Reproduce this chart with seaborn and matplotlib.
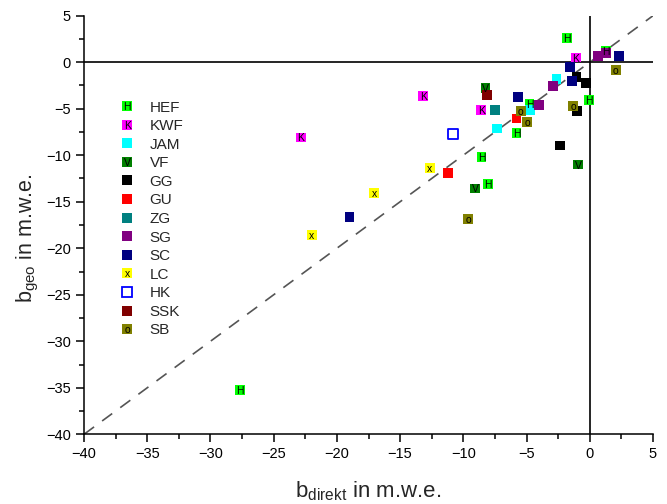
import matplotlib
matplotlib.use("Agg")
import matplotlib.pyplot as plt
from matplotlib.legend_handler import HandlerBase
from matplotlib.patches import Rectangle
from matplotlib.text import Text
from matplotlib.ticker import MultipleLocator
import numpy as np
import pandas as pd
import seaborn as sns

# Glacier groups, their colours and the letter printed on each marker
groups = ["HEF", "KWF", "JAM", "VF", "GG", "GU", "ZG", "SG", "SC", "LC", "HK", "SSK", "SB"]
colors = ["#00ff00", "#ff00ff", "#00ffff", "#008000", "#000000", "#ff0000", "#008080",
          "#800080", "#000080", "#ffff00", "#ffffff", "#800000", "#808000"]
letters = ["H", "K", "", "V", "", "", "", "", "", "x", "", "", "o"]

# Mass balance pairs (direct glaciological vs geodetic), m w.e.
hef_direkt = [-1.8, 1.3, -0.05, -4.77, -5.8, -8.56, -8.03, -27.65]
hef_geo = [2.6, 1.2, -4.07, -4.5, -7.65, -10.2, -13.1, -35.2]
kwf_direkt = [-1.1, -8.58, -13.17, -22.85]
kwf_geo = [0.5, -5.15, -3.64, -8.09]
jam_direkt = [-2.63, -4.74, -7.32]
jam_geo = [-1.84, -5.15, -7.12]
vf_direkt = [-8.24, -9.08, -0.9]
vf_geo = [-2.74, -13.57, -11.0]
gg_direkt = [-1.05, -0.32, -1.0, -2.37]
gg_geo = [-1.63, -2.2, -5.21, -8.95]
gu_direkt = [-5.79, -11.19]
gu_geo = [-6.05, -11.9]
zg_direkt = [-7.5]
zg_geo = [-5.15]
sg_direkt = [0.66, 1.26, -2.9, -4.0]
sg_geo = [0.7, 0.96, -2.56, -4.64]
sc_direkt = [2.3, -1.58, -1.4, -5.66, -19.0]
sc_geo = [0.7, -0.48, -2.0, -3.7, -16.63]
lc_direkt = [-12.64, -17.06, -21.98]
lc_geo = [-11.36, -14.05, -18.57]
hk_direkt = [-10.8]
hk_geo = [-7.76]
ssk_direkt = [-8.16]
ssk_geo = [-3.53]
sb_direkt = [2.05, -1.32, -5.47, -4.95, -9.6]
sb_geo = [-0.84, -4.7, -5.22, -6.4, -16.88]

direkt = [hef_direkt, kwf_direkt, jam_direkt, vf_direkt, gg_direkt, gu_direkt, zg_direkt,
          sg_direkt, sc_direkt, lc_direkt, hk_direkt, ssk_direkt, sb_direkt]
geo = [hef_geo, kwf_geo, jam_geo, vf_geo, gg_geo, gu_geo, zg_geo,
       sg_geo, sc_geo, lc_geo, hk_geo, ssk_geo, sb_geo]

rows = []
for g, xs, ys in zip(groups, direkt, geo):
    for xv, yv in zip(xs, ys):
        rows.append({"group": g, "b_direkt": xv, "b_geo": yv})
df = pd.DataFrame(rows)

sns.set_style("ticks")
plt.rcParams["font.family"] = ["Liberation Sans", "DejaVu Sans"]
plt.rcParams["mathtext.fontset"] = "custom"
plt.rcParams["mathtext.rm"] = "Liberation Sans"
plt.rcParams["mathtext.it"] = "Liberation Sans:italic"

fig = plt.figure(figsize=(6.67, 5.04), dpi=100)
ax = fig.add_axes([84 / 667, 1 - 434.3 / 504, (653 - 84) / 667, (434.3 - 15.7) / 504])

# 1:1 reference line and zero axes
lim = np.array([-40, 5])
ax.plot(lim, lim, color="#555555", lw=1.2, ls=(0, (7.5, 6)), zorder=1)
ax.axhline(0, color="black", lw=1.2, zorder=1)
ax.axvline(0, color="black", lw=1.2, zorder=1)

palette = dict(zip(groups, colors))
filled = df[df["group"] != "HK"]
sns.scatterplot(data=filled, x="b_direkt", y="b_geo", hue="group", palette=palette,
                marker="s", s=50, linewidth=0, legend=False, ax=ax, zorder=3)
hk = df[df["group"] == "HK"]
sns.scatterplot(data=hk, x="b_direkt", y="b_geo", marker="s", s=42,
                facecolor="white", edgecolor="#0000ff", linewidth=1.3,
                legend=False, ax=ax, zorder=3)

letter_of = dict(zip(groups, letters))
for _, r in df.iterrows():
    lt = letter_of[r["group"]]
    if lt:
        ax.text(r["b_direkt"], r["b_geo"], lt, ha="center", va="center_baseline",
                fontsize=7.5, color="black", zorder=4)

ax.set_xlim(-40, 5)
ax.set_ylim(-40, 5)
ax.xaxis.set_major_locator(MultipleLocator(5))
ax.yaxis.set_major_locator(MultipleLocator(5))
ax.xaxis.set_minor_locator(MultipleLocator(2.5))
ax.yaxis.set_minor_locator(MultipleLocator(2.5))
ax.tick_params(which="major", direction="out", length=6, width=1.1, labelsize=10.5,
               color="black", labelcolor="black")
ax.tick_params(which="minor", direction="out", length=3.5, width=1.1, color="black")
for side in ["top", "right"]:
    ax.spines[side].set_visible(False)
for side in ["left", "bottom"]:
    ax.spines[side].set_linewidth(1.1)
    ax.spines[side].set_color("black")

ax.set_xlabel(r"b$_{\mathrm{direkt}}$ in m.w.e.", fontsize=16)
ax.set_ylabel(r"b$_{\mathrm{geo}}$ in m.w.e.", fontsize=15.5)
ax.xaxis.set_label_coords(0.5, -0.108)
ax.yaxis.set_label_coords(-0.075, 0.469)


class GroupKey:
    def __init__(self, face, edge, letter):
        self.face = face
        self.edge = edge
        self.letter = letter


class GroupKeyHandler(HandlerBase):
    def create_artists(self, legend, orig_handle, xdescent, ydescent, width, height,
                       fontsize, trans):
        cx = -xdescent + width / 2
        cy = -ydescent + height / 2
        side = 7.2
        lw = 1.3 if orig_handle.face == "#ffffff" else 0
        sq = Rectangle((cx - side / 2, cy - side / 2), side, side,
                       facecolor=orig_handle.face, edgecolor=orig_handle.edge,
                       linewidth=lw, transform=trans)
        arts = [sq]
        if orig_handle.letter:
            arts.append(Text(cx, cy, orig_handle.letter, ha="center",
                             va="center_baseline", fontsize=7.5, color="black",
                             transform=trans))
        return arts


keys = []
for g, c, lt in zip(groups, colors, letters):
    edge = "#0000ff" if c == "#ffffff" else c
    keys.append(GroupKey(c, edge, lt))

ax.legend(keys, groups, handler_map={GroupKey: GroupKeyHandler()},
          loc="upper left", bbox_to_anchor=(121.7 / 667, 1 - 100.5 / 504),
          bbox_transform=fig.transFigure, frameon=False, fontsize=11,
          borderpad=0, handlelength=0.72, handleheight=0.7, handletextpad=1.1,
          labelspacing=0.30, borderaxespad=0)

fig.savefig("out.png", dpi=100)
